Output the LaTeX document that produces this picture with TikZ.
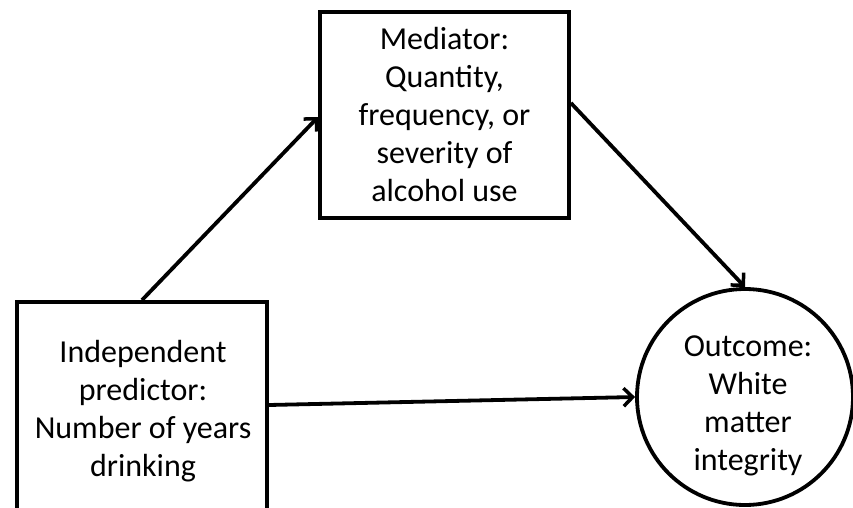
\documentclass[tikz,border=0pt]{standalone}
\usepackage{fontspec}
\setmainfont{Carlito}
\usetikzlibrary{arrows.meta}
\begin{document}
\begin{tikzpicture}[x=1pt,y=-1pt,
  every node/.style={font=\fontsize{32}{38}\selectfont, align=center, inner sep=0pt},
  boxnode/.style={draw, line width=3.8pt, rectangle},
  circnode/.style={draw, line width=3.8pt, circle},
  conn/.style={line width=3.8pt, -{Straight Barb[length=9pt,width=18pt,line width=3.5pt]}}]
\useasboundingbox (0,0) rectangle (853,508);
\clip (0,0) rectangle (853,508);
\fill[white] (0,0) rectangle (853,508);
\node[boxnode, minimum width=249pt, minimum height=206pt] (med) at (444.5,115)
  {Mediator:\\Quantity,\\frequency, or\\severity of\\alcohol use};
\node[boxnode, minimum width=250pt, minimum height=223pt] (ind) at (142,413.5) {};
\node (indtxt) at (143,411) {Independent\\predictor:\\Number of years\\drinking};
\node[circnode, minimum size=216pt] (out) at (745,397) {};
\node (outtxt) at (748,406) {Outcome:\\White\\matter\\integrity};
\draw[conn] (ind.north) -- ([yshift=-2pt]med.west);
\draw[conn] ([yshift=12pt]med.east) -- (out.north);
\draw[conn] ([yshift=8.5pt]ind.east) -- (out.west);
\end{tikzpicture}
\end{document}
